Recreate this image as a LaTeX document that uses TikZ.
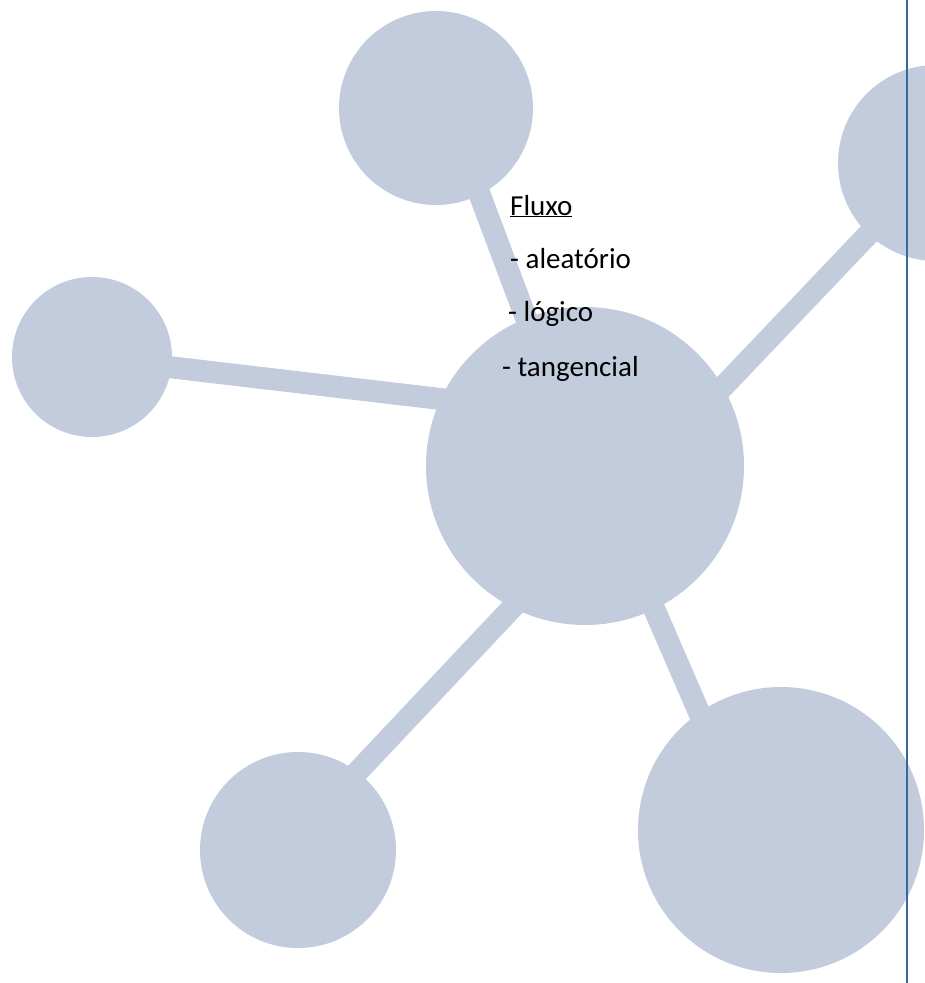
\documentclass[tikz,border=0pt]{standalone}
\usepackage{fontspec}
\setmainfont{Carlito}
\definecolor{blob}{HTML}{C2CCDD}
\definecolor{rule}{HTML}{35699A}
\begin{document}
\begin{tikzpicture}[x=1pt,y=-1pt,
  blobc/.style={circle,fill=blob,draw=none,inner sep=0pt,minimum size=#1},
  bar/.style={draw=blob,line width=22pt},
  lbl/.style={anchor=base west,inner sep=0pt,font=\fontsize{29}{34}\selectfont,text=black}]
\useasboundingbox (0,0) rectangle (925,983);
\fill[white] (0,0) rectangle (925,983);
\begin{scope}
\clip (0,0) rectangle (925,983);
% circles
\node[blobc=194pt] (top) at (436,108) {};
\node[blobc=160pt] (left) at (92,357) {};
\node[blobc=318pt] (mid) at (585,466) {};
\node[blobc=196pt] (tr) at (936,163) {};
\node[blobc=196pt] (bl) at (298,850) {};
\node[blobc=286pt] (br) at (781,830) {};
% bar end points
\coordinate (t1) at (463,150);
\coordinate (t2) at (538,350);
\coordinate (l1) at (92,358);
\coordinate (l2) at (500,406);
\coordinate (r1) at (900,201);
\coordinate (r2) at (700,411);
\coordinate (b1) at (560,557);
\coordinate (b2) at (330,801);
\coordinate (c1) at (620,530);
\coordinate (c2) at (737,800);
\draw[bar] (t1) -- (t2);
\draw[bar] (l1) -- (l2);
\draw[bar] (r1) -- (r2);
\draw[bar] (b1) -- (b2);
\draw[bar] (c1) -- (c2);
\end{scope}
% vertical rule
\coordinate (v1) at (907,0);
\coordinate (v2) at (907,983);
\draw[rule,line width=2.2pt] (v1) -- (v2);
% text
\node[lbl] (fluxo) at (510,215) {\underline{Fluxo}};
\node[lbl] (ale) at (510,268) {- aleatório};
\node[lbl] (log) at (508,321) {- lógico};
\node[lbl] (tan) at (502,376) {- tangencial};
\end{tikzpicture}
\end{document}
